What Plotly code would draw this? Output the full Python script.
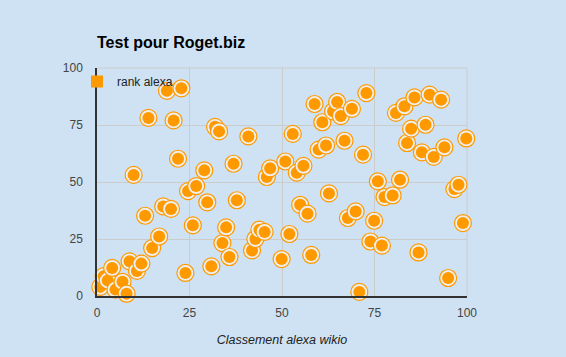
import plotly.graph_objects as go

# Data
x_vals = [0.9, 1.8, 2.9, 4.1, 5.0, 6.9, 8.0, 8.8, 10.8, 12.0,
          9.9, 13.0, 13.9, 14.9, 16.8, 17.9, 18.9, 20.0, 20.7, 21.9,
          22.8, 23.9, 24.6, 26.8, 25.9, 29.0, 29.8, 30.9, 31.9, 33.0,
          33.9, 34.9, 35.8, 36.9, 37.8, 40.9, 41.9, 42.8, 43.9, 45.3,
          45.9, 46.8, 49.9, 50.9, 52.0, 52.9, 54.0, 54.9, 55.8, 56.9,
          57.9, 58.8, 59.9, 60.9, 61.9, 62.7, 63.8, 64.9, 65.9, 66.9,
          67.8, 68.9, 69.9, 70.9, 71.9, 72.8, 73.9, 74.9, 75.9, 77.0,
          77.7, 79.9, 80.8, 81.9, 83.1, 83.8, 84.9, 85.8, 86.9, 87.8,
          88.8, 89.9, 91.0, 93.0, 93.9, 94.9, 96.6, 97.7, 98.9, 99.8]
y_vals = [4.0, 8.7, 6.8, 12.3, 2.8, 6.2, 1.0, 15.2, 11.0, 14.2,
          53.1, 35.2, 78.1, 21.0, 26.1, 39.3, 90.0, 38.2, 77.0, 60.2,
          91.1, 10.1, 46.0, 48.2, 31.0, 55.1, 41.1, 13.0, 74.2, 72.2,
          23.2, 30.1, 17.1, 58.0, 42.0, 70.0, 20.0, 25.0, 29.1, 28.1,
          52.2, 56.0, 16.2, 59.0, 27.2, 71.1, 54.1, 40.0, 57.1, 36.1,
          18.0, 84.2, 64.2, 76.2, 66.0, 45.0, 81.0, 85.1, 78.9, 68.1,
          34.2, 82.1, 37.1, 1.8, 62.0, 89.0, 23.9, 33.0, 50.3, 22.1,
          43.4, 44.1, 80.3, 51.0, 83.2, 67.1, 73.4, 87.1, 19.1, 63.0,
          75.1, 88.3, 61.0, 86.1, 65.2, 7.9, 46.9, 48.8, 32.0, 69.1]
series_name = "rank alexa"
chart_title = "Test pour Roget.biz"
x_title = "Classement alexa wikio"
tick_vals = [0, 25, 50, 75, 100]

ORANGE = "#ff9900"
RING = "#eeefea"
BG = "#cfe2f3"

# interleave ring + dot so each point is drawn as a unit
xs, ys, sizes, colors, lws = [], [], [], [], []
for xv, yv in zip(x_vals, y_vals):
    xs += [xv, xv]
    ys += [yv, yv]
    sizes += [17, 12]
    colors += [RING, ORANGE]
    lws += [1.2, 0]

fig = go.Figure()
fig.add_trace(go.Scatter(
    x=xs, y=ys, mode="markers", showlegend=False, cliponaxis=False,
    marker=dict(size=sizes, color=colors,
                line=dict(color=ORANGE, width=lws), opacity=1),
    hoverinfo="skip",
))
fig.add_trace(go.Scatter(
    x=[None], y=[None], mode="markers", name=series_name,
    marker=dict(symbol="square", size=12, color=ORANGE),
))

fig.update_layout(
    width=566, height=357,
    paper_bgcolor=BG, plot_bgcolor=BG,
    margin=dict(l=97, r=99, t=68, b=61, autoexpand=False),
    font=dict(family="Liberation Sans, Arial, sans-serif", size=12, color="#444"),
    title=dict(text="<b>" + chart_title + "</b>", x=97 / 566, xanchor="left",
               y=1 - 42 / 357, yanchor="middle",
               font=dict(size=16, color="#000", family="Liberation Sans, Arial, sans-serif")),
    showlegend=True,
    legend=dict(xref="container", yref="container",
                x=77 / 566, y=1 - 67 / 357, xanchor="left", yanchor="top",
                bgcolor="rgba(0,0,0,0)", font=dict(size=12, color="#222"),
                itemwidth=30, borderwidth=0),
    xaxis=dict(range=[0, 100], tickvals=tick_vals, showgrid=True,
               gridcolor="#cccccc", gridwidth=1, zeroline=False,
               showline=True, linecolor="#333", linewidth=1.5,
               ticks="", ticklabelstandoff=5, fixedrange=True,
               title=dict(text="<i>" + x_title + "</i>", standoff=16,
                          font=dict(size=12.5, color="#222"))),
    yaxis=dict(range=[0, 100], tickvals=tick_vals, showgrid=True,
               gridcolor="#cccccc", gridwidth=1, zeroline=False,
               showline=True, linecolor="#333", linewidth=1.5,
               ticks="", ticklabelstandoff=10, fixedrange=True),
)
fig.add_shape(type="line", xref="paper", yref="paper", x0=0, x1=1, y0=1, y1=1,
              line=dict(color="#cccccc", width=1), layer="below")
fig.add_shape(type="line", xref="paper", yref="paper", x0=1, x1=1, y0=0, y1=1,
              line=dict(color="#cccccc", width=1), layer="below")

fig.write_html(
    "out.html",
    config={"displayModeBar": False},
    post_script="document.body.style.margin='0';document.body.style.background='" + BG + "';",
)
